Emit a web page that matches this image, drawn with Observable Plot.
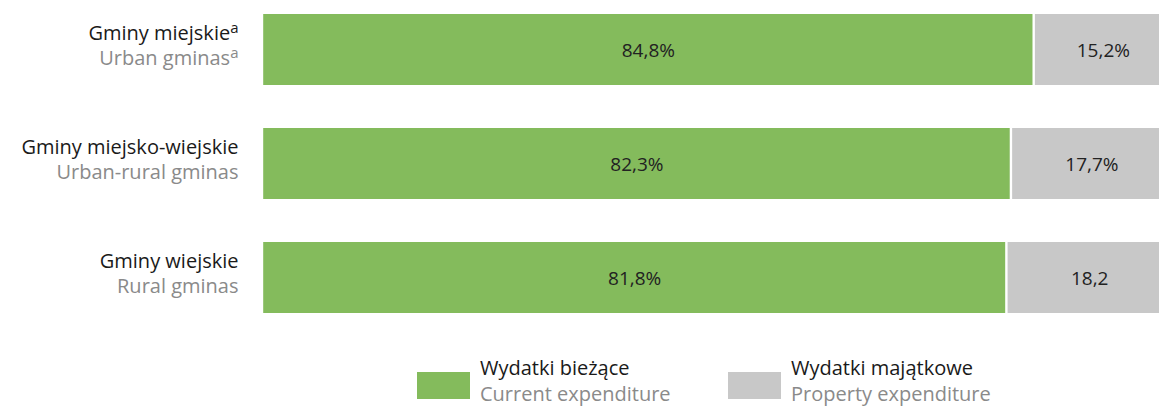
<!DOCTYPE html>
<html>
<head>
<meta charset="utf-8">
<script src="https://cdn.jsdelivr.net/npm/d3@7"></script>
<script src="https://cdn.jsdelivr.net/npm/@observablehq/plot@0.6"></script>
<style>
  html, body { margin: 0; padding: 0; background: #ffffff; overflow: hidden; }
  body { width: 1159px; height: 406px; position: relative; font-family: "Open Sans", sans-serif; }
  #chart svg { display: block; }
  .legend { position: absolute; top: 0; left: 0; width: 1159px; height: 406px; }
  .swatch { position: absolute; top: 372px; width: 53px; height: 27px; }
  .txt { position: absolute; top: 355px; white-space: nowrap; }
  .l1 { font-size: 20px; color: #1a1a1a; line-height: 26px; }
  .l2 { font-size: 20px; color: #8a8a8a; line-height: 26px; }
</style>
</head>
<body>
<div id="chart"></div>
<div class="legend" id="legend"></div>
<script>
const categories = ["Gminy miejskie", "Gminy miejsko-wiejskie", "Gminy wiejskie"];
const categoriesEn = ["Urban gminas", "Urban-rural gminas", "Rural gminas"];
const footnotes = ["a", "", ""];
const seriesNames = ["Wydatki bieżące", "Wydatki majątkowe"];
const seriesNamesEn = ["Current expenditure", "Property expenditure"];
const seriesColors = ["#84bb5c", "#c8c8c8"];
const currentValues = [84.8, 82.3, 81.8];
const propertyValues = [15.2, 17.7, 18.2];
const currentLabels = ["84,8%", "82,3%", "81,8%"];
const propertyLabels = ["15,2%", "17,7%", "18,2"];

const rows = [];
categories.forEach((c, i) => {
  rows.push({category: c, series: seriesNames[0], value: currentValues[i], label: currentLabels[i]});
  rows.push({category: c, series: seriesNames[1], value: propertyValues[i], label: propertyLabels[i]});
});
const cats = categories.map((c, i) => ({category: c, en: categoriesEn[i], sup: footnotes[i]}));

const chart = Plot.plot({
  width: 1159,
  height: 340,
  marginLeft: 262,
  marginRight: 0,
  marginTop: 13,
  marginBottom: 27,
  style: {fontFamily: "Open Sans, sans-serif", background: "transparent"},
  x: {domain: [0, 100], range: [262, 1172], axis: null},
  y: {domain: categories, paddingInner: 0.38, paddingOuter: 0, align: 0.5, axis: null},
  color: {domain: seriesNames, range: seriesColors},
  marks: [
    Plot.barX(rows, Plot.stackX({x: "value", y: "category", fill: "series", order: null, insetLeft: 1.2, insetRight: 1.2})),
    Plot.text(rows, Plot.stackX({x: "value", y: "category", text: "label", order: null, fill: "#222222", fontSize: 19, dy: 1})),
    Plot.text(cats, {y: "category", text: "category", frameAnchor: "left", textAnchor: "end", dx: -24, dy: -16, fontSize: 20, fill: "#1a1a1a"}),
    Plot.text(cats, {y: "category", text: "en", frameAnchor: "left", textAnchor: "end", dx: -24, dy: 9, fontSize: 20, fill: "#8a8a8a"})
  ]
});

// superscript footnote markers on category labels
d3.select(chart).selectAll("text").each(function() {
  const t = this.textContent;
  const i = categories.indexOf(t) >= 0 ? categories.indexOf(t) : categoriesEn.indexOf(t);
  if (i >= 0 && footnotes[i]) {
    d3.select(this).append("tspan").attr("font-size", 15).attr("dy", -7).text(footnotes[i]);
  }
});

document.getElementById("chart").appendChild(chart);

const swatchLefts = [417, 728];
const textLefts = [480, 791];
const legend = d3.select("#legend");
seriesNames.forEach((s, i) => {
  legend.append("div").attr("class", "swatch").style("left", swatchLefts[i] + "px").style("background", seriesColors[i]);
  const txt = legend.append("div").attr("class", "txt").style("left", textLefts[i] + "px");
  txt.append("div").attr("class", "l1").text(s);
  txt.append("div").attr("class", "l2").text(seriesNamesEn[i]);
});
</script>
</body>
</html>
